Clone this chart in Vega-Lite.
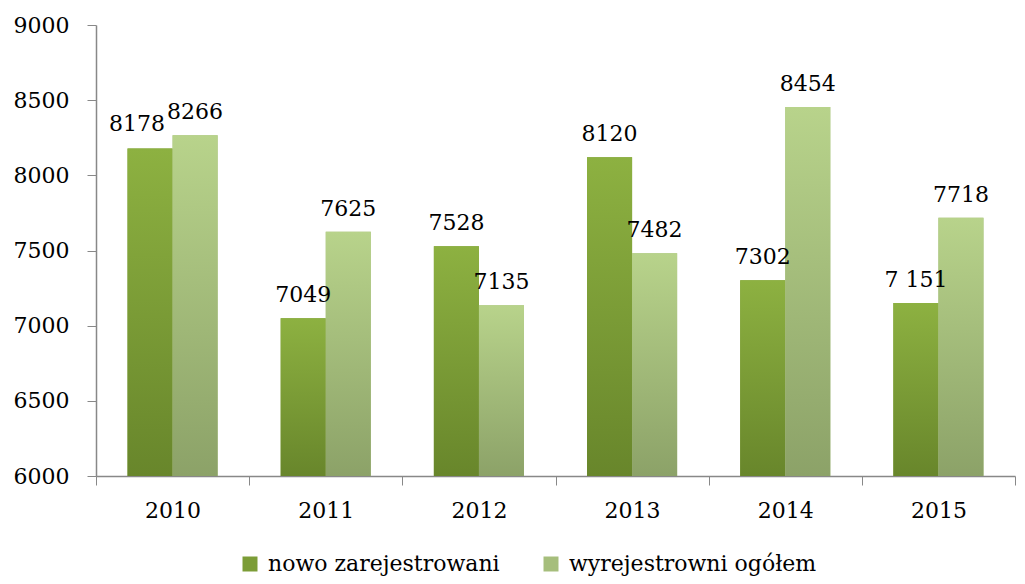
{
  "$schema": "https://vega.github.io/schema/vega-lite/v6.json",
  "width": 919,
  "height": 451,
  "autosize": {"type": "none"},
  "padding": {"left": 96, "top": 25, "right": 10, "bottom": 108},
  "background": "white",
  "config": {
    "font": "DejaVu Serif",
    "view": {"stroke": null},
    "axis": {"labelFont": "DejaVu Serif", "labelFontSize": 22, "labelColor": "#000000", "domainColor": "#888888", "tickColor": "#888888", "grid": false, "title": null}
  },
  "data": {
    "values": [
      {"year": "2010", "series": "nowo zarejestrowani", "value": 8178, "label": "8178"},
      {"year": "2010", "series": "wyrejestrowni  ogółem", "value": 8266, "label": "8266"},
      {"year": "2011", "series": "nowo zarejestrowani", "value": 7049, "label": "7049"},
      {"year": "2011", "series": "wyrejestrowni  ogółem", "value": 7625, "label": "7625"},
      {"year": "2012", "series": "nowo zarejestrowani", "value": 7528, "label": "7528"},
      {"year": "2012", "series": "wyrejestrowni  ogółem", "value": 7135, "label": "7135"},
      {"year": "2013", "series": "nowo zarejestrowani", "value": 8120, "label": "8120"},
      {"year": "2013", "series": "wyrejestrowni  ogółem", "value": 7482, "label": "7482"},
      {"year": "2014", "series": "nowo zarejestrowani", "value": 7302, "label": "7302"},
      {"year": "2014", "series": "wyrejestrowni  ogółem", "value": 8454, "label": "8454"},
      {"year": "2015", "series": "nowo zarejestrowani", "value": 7151, "label": "7 151"},
      {"year": "2015", "series": "wyrejestrowni  ogółem", "value": 7718, "label": "7718"}
    ]
  },
  "encoding": {
    "x": {
      "field": "year", "type": "nominal",
      "scale": {"paddingInner": 0, "paddingOuter": 0},
      "axis": {"labelAngle": 0, "tickBand": "extent", "tickSize": 9, "labelPadding": 15, "domainWidth": 1.5}
    },
    "xOffset": {"field": "series", "type": "nominal", "scale": {"paddingInner": 0, "paddingOuter": 0.7, "domain": ["nowo zarejestrowani", "wyrejestrowni  ogółem"]}},
    "y": {
      "field": "value", "type": "quantitative",
      "scale": {"domain": [6000, 9000], "nice": false, "zero": false},
      "axis": {"values": [6000, 6500, 7000, 7500, 8000, 8500, 9000], "format": "d", "tickSize": 9, "labelPadding": 18, "domainWidth": 1.5}
    }
  },
  "layer": [
    {
      "mark": {"type": "bar"},
      "encoding": {
        "y2": {"datum": 6000},
        "color": {
          "field": "series", "type": "nominal",
          "scale": {
            "domain": ["nowo zarejestrowani", "wyrejestrowni  ogółem"],
            "range": ["#7C9D37", "#A6BE7C"]
          },
          "legend": {
            "orient": "none", "legendX": 143, "legendY": 528, "direction": "horizontal", "title": null,
            "symbolType": "square", "symbolSize": 225, "symbolStrokeWidth": 0, "labelOffset": 7,
            "labelFontSize": 22, "labelFont": "DejaVu Serif", "labelColor": "#000000",
            "columnPadding": 40, "labelLimit": 400
          }
        }
      }
    },
    {
      "transform": [{"filter": "datum.series === 'nowo zarejestrowani'"}],
      "mark": {"type": "bar", "color": {"gradient": "linear", "x1": 0, "y1": 0, "x2": 0, "y2": 1, "stops": [{"offset": 0, "color": "#8DB141"}, {"offset": 1, "color": "#68862B"}]}},
      "encoding": {"y2": {"datum": 6000}}
    },
    {
      "transform": [{"filter": "datum.series !== 'nowo zarejestrowani'"}],
      "mark": {"type": "bar", "color": {"gradient": "linear", "x1": 0, "y1": 0, "x2": 0, "y2": 1, "stops": [{"offset": 0, "color": "#B8D38B"}, {"offset": 1, "color": "#8CA268"}]}},
      "encoding": {"y2": {"datum": 6000}}
    },
    {
      "transform": [{"filter": "!(datum.year === '2010' && datum.series === 'nowo zarejestrowani')"}],
      "mark": {"type": "text", "baseline": "alphabetic", "dy": -16, "fontSize": 22, "font": "DejaVu Serif", "color": "#000000"},
      "encoding": {"text": {"field": "label"}}
    },
    {
      "transform": [{"filter": "datum.year === '2010' && datum.series === 'nowo zarejestrowani'"}],
      "mark": {"type": "text", "baseline": "alphabetic", "dy": -18, "dx": -13, "fontSize": 22, "font": "DejaVu Serif", "color": "#000000"},
      "encoding": {"text": {"field": "label"}}
    }
  ]
}
